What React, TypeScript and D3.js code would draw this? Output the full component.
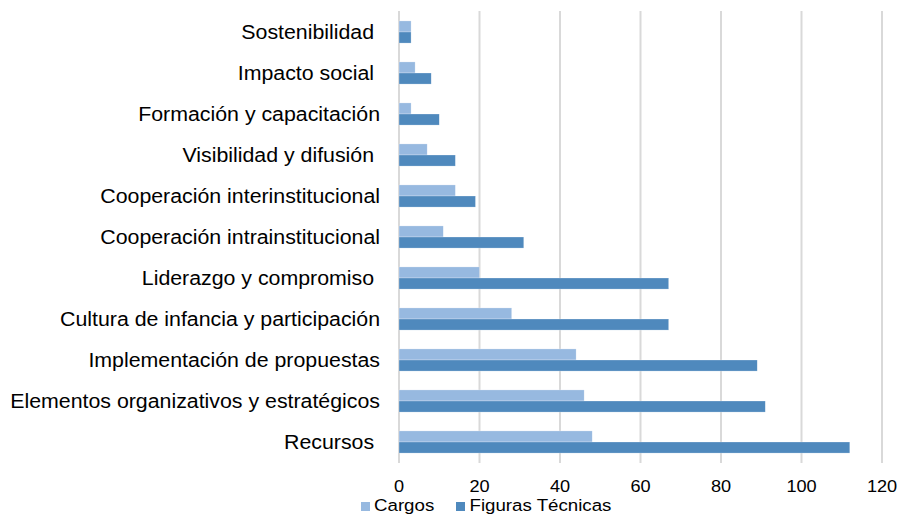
import React from "react";
import * as d3 from "d3";

const categories = [
  "Sostenibilidad ",
  "Impacto social ",
  "Formación y capacitación",
  "Visibilidad y difusión ",
  "Cooperación interinstitucional",
  "Cooperación intrainstitucional",
  "Liderazgo y compromiso ",
  "Cultura de infancia y participación",
  "Implementación de propuestas",
  "Elementos organizativos y estratégicos",
  "Recursos ",
];
const cargos = [3, 4, 3, 7, 14, 11, 20, 28, 44, 46, 48];
const figurasTecnicas = [3, 8, 10, 14, 19, 31, 67, 67, 89, 91, 112];
const xTicks = [0, 20, 40, 60, 80, 100, 120];
const seriesNames = ["Cargos", "Figuras Técnicas"];
const colors = ["#97B9E0", "#4F89BD"];

export default function App() {
  const width = 901;
  const height = 514;
  const x = d3.scaleLinear().domain([0, 120]).range([399, 882]);
  const y = d3.scaleBand().domain(categories).range([11.5, 462.5]).paddingInner(0.46).paddingOuter(0.23);
  const sub = d3.scaleBand().domain(seriesNames).range([0, y.bandwidth()]);
  const series = [cargos, figurasTecnicas];
  const font = "Liberation Sans, Arial, sans-serif";
  const sx = 1.1;
  return (
    <svg width={width} height={height} style={{ position: "absolute", left: 0, top: 0, background: "#fff" }}>
      {xTicks.map((t) => (
        <line key={"g" + t} x1={x(t)} x2={x(t)} y1={11} y2={463} stroke="#D9D9D9" strokeWidth={2} />
      ))}
      {categories.map((c, i) =>
        series.map((s, j) => (
          <rect
            key={c + j}
            x={x(0)}
            y={(y(c) as number) + (sub(seriesNames[j]) as number)}
            width={x(s[i]) - x(0)}
            height={sub.bandwidth()}
            fill={colors[j]}
            stroke="#ffffff"
            strokeOpacity={0.5}
            strokeWidth={0.5}
          />
        ))
      )}
      {categories.map((c) => (
        <text
          key={"l" + c}
          transform={`translate(380,${(y(c) as number) + y.bandwidth() / 2 + 6.5}) scale(${sx},1)`}
          textAnchor="end"
          fontFamily={font}
          fontSize={19.4}
          fill="#000"
          style={{ whiteSpace: "pre" }}
        >
          {c}
        </text>
      ))}
      {xTicks.map((t) => (
        <text key={"t" + t} transform={`translate(${x(t)},492) scale(${sx},1)`} textAnchor="middle" fontFamily={font} fontSize={16.5}>
          {t}
        </text>
      ))}
      <rect x={361} y={502} width={9} height={9} fill={colors[0]} />
      <text transform={`translate(374,511) scale(${sx},1)`} fontFamily={font} fontSize={17} fill="#000">{seriesNames[0]}</text>
      <rect x={456} y={502} width={9} height={9} fill={colors[1]} />
      <text transform={`translate(469.5,511) scale(${sx},1)`} fontFamily={font} fontSize={17} fill="#000">{seriesNames[1]}</text>
    </svg>
  );
}
